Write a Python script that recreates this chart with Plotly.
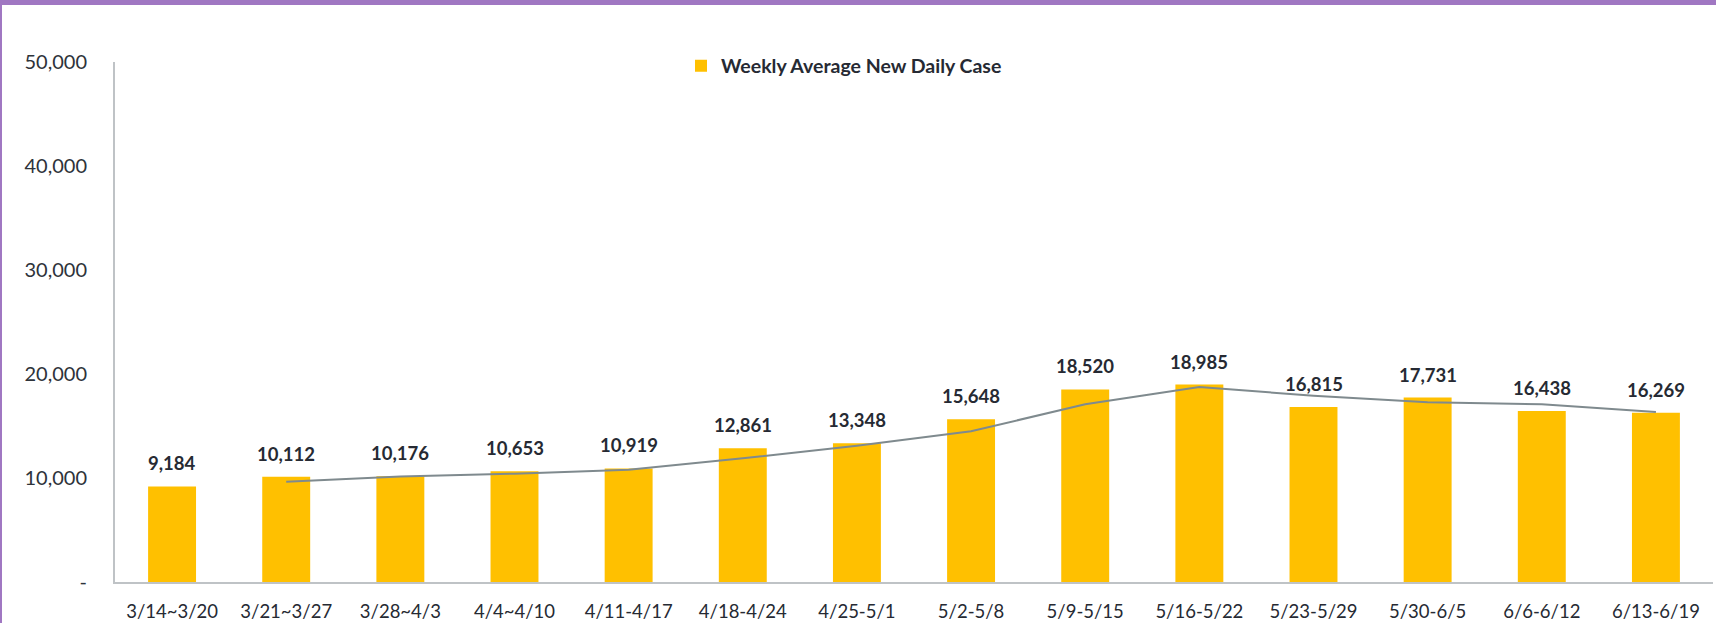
import plotly.graph_objects as go

categories = ["3/14~3/20", "3/21~3/27", "3/28~4/3", "4/4~4/10", "4/11-4/17", "4/18-4/24",
              "4/25-5/1", "5/2-5/8", "5/9-5/15", "5/16-5/22", "5/23-5/29", "5/30-6/5",
              "6/6-6/12", "6/13-6/19"]
weekly_avg = [9184, 10112, 10176, 10653, 10919, 12861, 13348, 15648, 18520, 18985,
              16815, 17731, 16438, 16269]
trend_categories = categories[1:]
trend_values = [9648, 10144, 10415, 10786, 11890, 13105, 14498, 17084, 18753, 17900,
                17273, 17085, 16354]
y_tickvals = [0, 10000, 20000, 30000, 40000, 50000]
y_ticktext = ["-", "10,000", "20,000", "30,000", "40,000", "50,000"]

W, H = 1716, 623
L, R, T, B = 115, 3, 62, 41
pw, ph = W - L - R, H - T - B

fig = go.Figure()
fig.add_trace(go.Bar(
    x=categories, y=weekly_avg, name="Weekly Average New Daily Case",
    marker=dict(color="#FFC000", line=dict(width=0)), width=0.42,
))
fig.add_trace(go.Scatter(
    x=trend_categories, y=trend_values, mode="lines", showlegend=False,
    line=dict(color="#7F8A8E", width=2), hoverinfo="skip",
))

for c, v in zip(categories, weekly_avg):
    fig.add_annotation(x=c, y=v, text=f"<b>{v:,}</b>", showarrow=False,
                       yshift=23, font=dict(family="Lato", size=18.5, color="#262A33"))

# purple frame (top and left)
fig.add_shape(type="rect", xref="paper", yref="paper",
              x0=-L / pw, x1=1 + R / pw, y0=1 + (T - 5) / ph, y1=1 + T / ph,
              fillcolor="#A077C2", line=dict(width=0), layer="above")
fig.add_shape(type="rect", xref="paper", yref="paper",
              x0=-L / pw, x1=-(L - 2) / pw, y0=-B / ph, y1=1 + T / ph,
              fillcolor="#A077C2", line=dict(width=0), layer="above")

fig.update_layout(
    width=W, height=H,
    margin=dict(l=L, r=R, t=T, b=B, autoexpand=False),
    paper_bgcolor="white", plot_bgcolor="white",
    showlegend=True,
    legend=dict(orientation="h", x=(681 - L) / pw, xanchor="left", y=1 - 4 / ph, yanchor="middle",
                font=dict(family="Lato", size=19.5, color="#262A33", weight="bold"),
                itemwidth=30, bgcolor="rgba(0,0,0,0)"),
    xaxis=dict(showgrid=False, showline=True, linecolor="#BFC3C6", linewidth=2,
               ticks="", ticklabelstandoff=12,
               tickfont=dict(family="Lato", size=18.5, color="#262A33"),
               range=[-0.5, len(categories) - 0.5]),
    yaxis=dict(showgrid=False, showline=True, linecolor="#BFC3C6", linewidth=2,
               range=[0, 50000], tickvals=y_tickvals, ticktext=y_ticktext,
               ticks="", ticklabelstandoff=22, zeroline=False,
               tickfont=dict(family="Lato", size=20, color="#2E333A")),
)

fig.write_html("out.html", config={"displayModeBar": False},
               post_script="document.body.style.margin='0';document.body.style.overflow='hidden';")
